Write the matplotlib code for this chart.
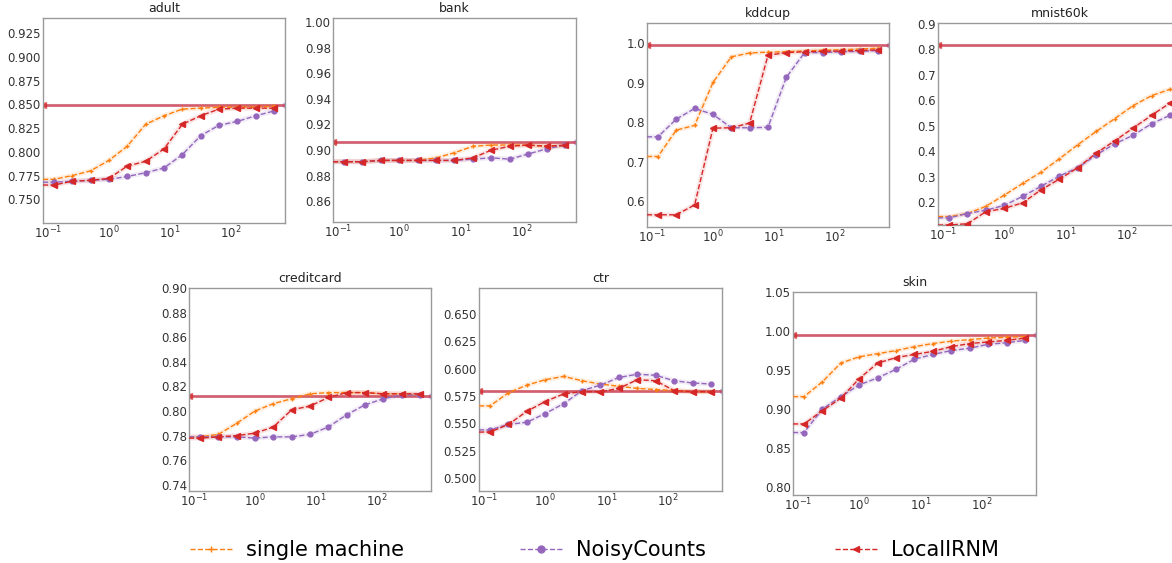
import numpy as np
import matplotlib
matplotlib.use("Agg")
import matplotlib.pyplot as plt
from matplotlib.lines import Line2D

W, H = 1172, 563

eps = [0.125, 0.25, 0.5, 1, 2, 4, 8, 16, 32, 64, 128, 256, 512]
x_left, x_right = 10 ** -1.083, 10 ** 2.89

datasets = ["adult", "bank", "kddcup", "mnist60k", "creditcard", "ctr", "skin"]

single_machine = {
    "adult": [0.771, 0.775, 0.780, 0.791, 0.806, 0.829, 0.838, 0.845, 0.846, 0.847, 0.847, 0.847, 0.848],
    "bank": [0.891, 0.891, 0.892, 0.892, 0.892, 0.894, 0.898, 0.903, 0.904, 0.904, 0.904, 0.903, 0.903],
    "kddcup": [0.713, 0.780, 0.792, 0.901, 0.966, 0.976, 0.978, 0.979, 0.981, 0.983, 0.984, 0.986, 0.988],
    "mnist60k": [0.143, 0.155, 0.183, 0.227, 0.273, 0.317, 0.370, 0.425, 0.477, 0.527, 0.578, 0.617, 0.642],
    "creditcard": [0.779, 0.781, 0.790, 0.800, 0.806, 0.810, 0.814, 0.815, 0.815, 0.815, 0.814, 0.814, 0.813],
    "ctr": [0.566, 0.578, 0.585, 0.590, 0.593, 0.589, 0.586, 0.584, 0.582, 0.581, 0.580, 0.579, 0.579],
    "skin": [0.916, 0.935, 0.959, 0.967, 0.971, 0.975, 0.980, 0.984, 0.987, 0.989, 0.991, 0.992, 0.993],
}
noisy_counts = {
    "adult": [0.768, 0.769, 0.770, 0.771, 0.774, 0.778, 0.783, 0.797, 0.817, 0.828, 0.832, 0.838, 0.843],
    "bank": [0.891, 0.891, 0.892, 0.892, 0.892, 0.892, 0.892, 0.893, 0.894, 0.893, 0.897, 0.901, 0.904],
    "kddcup": [0.763, 0.808, 0.835, 0.820, 0.786, 0.786, 0.787, 0.914, 0.977, 0.977, 0.979, 0.980, 0.982],
    "mnist60k": [0.138, 0.155, 0.168, 0.187, 0.222, 0.262, 0.302, 0.335, 0.385, 0.428, 0.462, 0.507, 0.540],
    "creditcard": [0.779, 0.779, 0.779, 0.778, 0.779, 0.779, 0.781, 0.787, 0.797, 0.805, 0.810, 0.813, 0.813],
    "ctr": [0.544, 0.549, 0.551, 0.559, 0.568, 0.580, 0.585, 0.592, 0.595, 0.594, 0.589, 0.587, 0.586],
    "skin": [0.870, 0.900, 0.916, 0.931, 0.940, 0.951, 0.964, 0.970, 0.975, 0.978, 0.983, 0.985, 0.988],
}
local_irnm = {
    "adult": [0.765, 0.769, 0.770, 0.772, 0.785, 0.790, 0.803, 0.829, 0.838, 0.845, 0.846, 0.846, 0.846],
    "bank": [0.891, 0.891, 0.892, 0.892, 0.892, 0.892, 0.892, 0.894, 0.900, 0.903, 0.904, 0.903, 0.904],
    "kddcup": [0.565, 0.565, 0.590, 0.785, 0.786, 0.798, 0.970, 0.977, 0.979, 0.980, 0.981, 0.982, 0.984],
    "mnist60k": [0.110, 0.115, 0.162, 0.175, 0.197, 0.248, 0.290, 0.335, 0.392, 0.440, 0.490, 0.540, 0.588],
    "creditcard": [0.778, 0.779, 0.780, 0.782, 0.787, 0.801, 0.804, 0.811, 0.815, 0.815, 0.814, 0.814, 0.814],
    "ctr": [0.542, 0.549, 0.561, 0.570, 0.577, 0.579, 0.579, 0.582, 0.590, 0.589, 0.580, 0.579, 0.579],
    "skin": [0.881, 0.898, 0.914, 0.939, 0.959, 0.966, 0.970, 0.974, 0.980, 0.984, 0.986, 0.988, 0.991],
}
baseline = {"adult": 0.849, "bank": 0.906, "kddcup": 0.997, "mnist60k": 0.815,
            "creditcard": 0.812, "ctr": 0.580, "skin": 0.995}

ylims = {"adult": (0.725, 0.941), "bank": (0.844, 1.003), "kddcup": (0.534, 1.052),
         "mnist60k": (0.11, 0.902), "creditcard": (0.735, 0.90), "ctr": (0.488, 0.674),
         "skin": (0.79, 1.05)}
yticks = {"adult": [0.750, 0.775, 0.800, 0.825, 0.850, 0.875, 0.900, 0.925],
          "bank": [0.86, 0.88, 0.90, 0.92, 0.94, 0.96, 0.98, 1.00],
          "kddcup": [0.6, 0.7, 0.8, 0.9, 1.0],
          "mnist60k": [0.2, 0.3, 0.4, 0.5, 0.6, 0.7, 0.8, 0.9],
          "creditcard": [0.74, 0.76, 0.78, 0.80, 0.82, 0.84, 0.86, 0.88, 0.90],
          "ctr": [0.500, 0.525, 0.550, 0.575, 0.600, 0.625, 0.650],
          "skin": [0.80, 0.85, 0.90, 0.95, 1.00, 1.05]}
yfmt = {"adult": "{:.3f}", "bank": "{:.2f}", "kddcup": "{:.1f}", "mnist60k": "{:.1f}",
        "creditcard": "{:.2f}", "ctr": "{:.3f}", "skin": "{:.2f}"}

# axes boxes in pixels: left, right, top, bottom
boxes = {"adult": (43, 285, 18, 223), "bank": (333, 576, 18, 222),
         "kddcup": (647, 889, 23, 227), "mnist60k": (938, 1181, 23, 225),
         "creditcard": (189, 431, 288, 491), "ctr": (479, 722, 288, 491),
         "skin": (793, 1036, 292, 495)}

C_OR = "#ff7f0e"
C_PU = "#9467bd"
C_RE = "#d62728"
SPINE = "#9a9a9a"

fig = plt.figure(figsize=(W / 100, H / 100), dpi=100)

series = [(single_machine, C_OR, "+", "--", 3.5, "single machine"),
          (noisy_counts, C_PU, "o", "--", 3.5, "NoisyCounts"),
          (local_irnm, C_RE, "<", "--", 3.8, "LocalIRNM")]

for name in datasets:
    l, r, t, b = boxes[name]
    ax = fig.add_axes([l / W, 1 - b / H, (r - l) / W, (b - t) / H])
    ax.set_xscale("log")
    # baselines
    ax.plot([x_left, x_right], [baseline[name]] * 2, color=C_PU, lw=2.2, alpha=0.4,
            marker="o", ms=3.5, markevery=[1], zorder=2)
    ax.plot([x_left, x_right], [baseline[name]] * 2, color=C_RE, lw=1.8, alpha=0.65,
            marker="<", ms=3.8, markevery=[0], zorder=2)
    for data, c, m, ls, ms, lab in series:
        y = data[name]
        xs = [x_left] + eps
        ys = [y[0]] + y
        # faint halo (confidence band look)
        ax.plot(xs, ys, color=c, ls="-", lw=3.5, alpha=0.12, zorder=2.5,
                solid_capstyle="round")
        ax.plot(xs, ys, color=c, ls=ls, lw=1.0, marker=m, ms=ms, mew=1.0,
                markevery=list(range(1, len(xs))), zorder=3)
    ax.set_xlim(x_left, x_right)
    ax.set_ylim(*ylims[name])
    ax.set_yticks(yticks[name])
    ax.set_yticklabels([yfmt[name].format(v) for v in yticks[name]])
    ax.set_xticks([0.1, 1, 10, 100])
    ax.set_xticklabels([r"$10^{-1}$", r"$10^{0}$", r"$10^{1}$", r"$10^{2}$"])
    ax.xaxis.set_minor_locator(matplotlib.ticker.NullLocator())
    ax.tick_params(axis="both", which="major", length=0, pad=1.5, labelsize=8.5,
                   labelcolor="#333333")
    for s in ax.spines.values():
        s.set_color(SPINE)
        s.set_linewidth(1.0)
    ax.set_title(name, fontsize=9, color="#222222", pad=4)

# legends
leg_x = [190, 520, 835]
for (data, c, m, ls, ms, lab), lx in zip(series, leg_x):
    h = Line2D([], [], color=c, ls=ls, lw=1.0, marker=m, ms=5)
    fig.legend(handles=[h], labels=[lab], loc="center left",
               bbox_to_anchor=(lx / W, 1 - 550 / H), frameon=False,
               borderpad=0, borderaxespad=0, handlelength=2.0, fontsize=15,
               handletextpad=0.7)

fig.savefig("out.png", dpi=100)
